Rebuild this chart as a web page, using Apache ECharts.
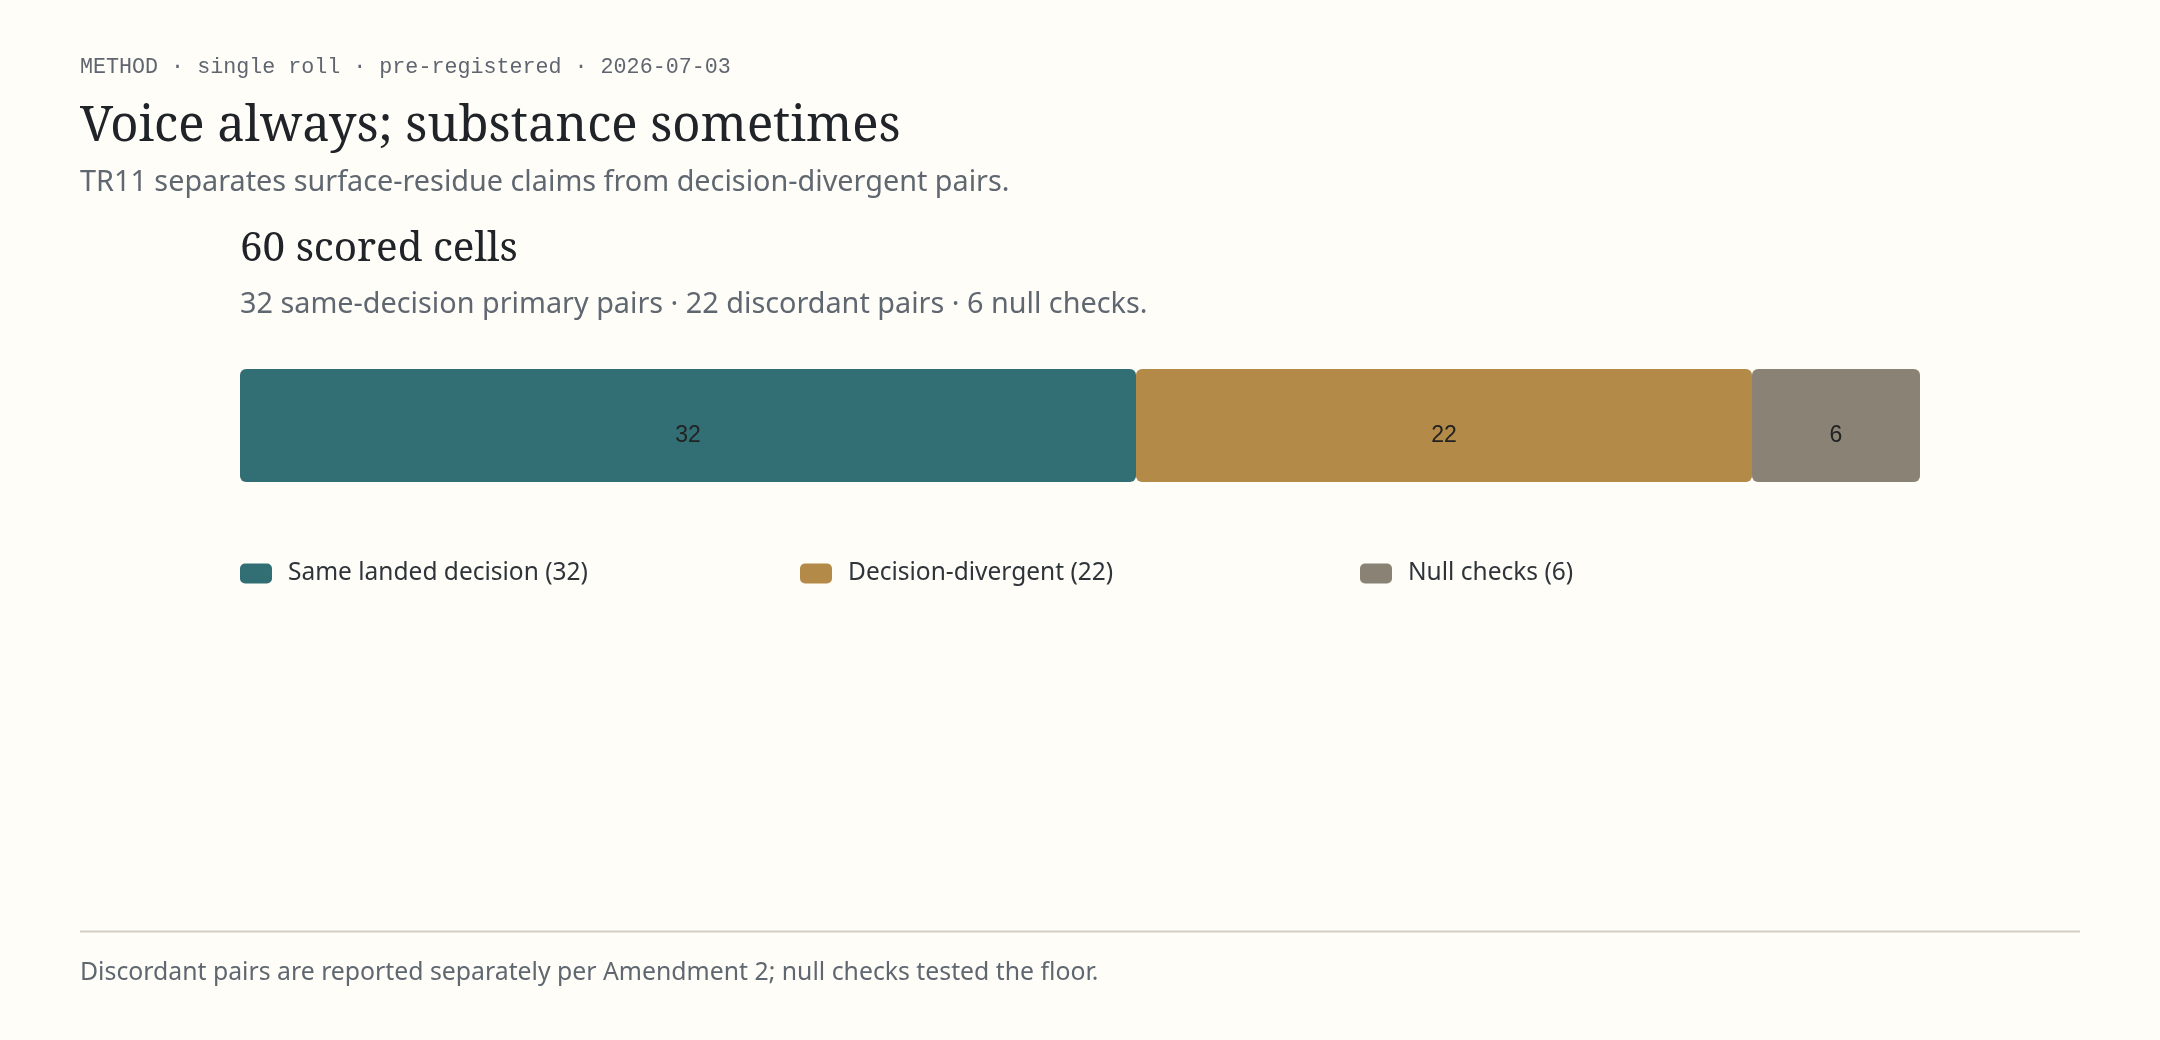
<!DOCTYPE html>
<html>
<head>
  <meta charset="utf-8">
  <title>60 scored cells</title>
  <style>
    html, body { margin: 0; padding: 0; background: #fffdf8; }
    #main { width: 2160px; height: 1040px; }
  </style>
</head>
<body>
<div id="main"></div>
<script src="https://cdn.jsdelivr.net/npm/echarts@6/dist/echarts.min.js"></script>
<script>
// data
var categories = ["cells"];
var seriesNames = ["Same landed decision", "Decision-divergent", "Null checks"];
var seriesValues = [32, 22, 6];
var seriesColors = ["#326f75", "#b38a47", "#8a8275"];
var total = 60;

var serif = "'Noto Serif', 'DejaVu Serif', serif";
var sans = "'Noto Sans', 'Open Sans', sans-serif";

var myChart = echarts.init(document.getElementById("main"));

// one legend per item so that they sit in equal slots
var legends = seriesNames.map(function (name, i) {
  return {
    left: 240 + i * 560,
    top: 561,
    padding: 0,
    itemWidth: 32,
    itemHeight: 20,
    itemGap: 0,
    icon: "roundRect",
    selectedMode: false,
    data: [name],
    formatter: function (n) { return n + " (" + seriesValues[i] + ")"; },
    textStyle: { fontFamily: sans, fontSize: 24.5, color: "#2e3439", padding: [0, 0, 0, 11] }
  };
});

var series = seriesNames.map(function (name, i) {
  return {
    name: name,
    type: "bar",
    stack: "all",
    barWidth: 113,
    data: [seriesValues[i]],
    itemStyle: { color: seriesColors[i], borderRadius: 6, borderWidth: 0 },
    label: {
      show: true,
      position: "inside",
      offset: [0, 10],
      color: "#222222",
      fontFamily: "'Liberation Sans', Arial, sans-serif",
      fontSize: 23
    },
    emphasis: { disabled: true }
  };
});

myChart.setOption({
  backgroundColor: "#fffdf8",
  animation: false,
  title: [
    {
      text: "METHOD · single roll · pre-registered · 2026-07-03",
      left: 80, top: 55, padding: 0,
      textStyle: { fontFamily: "'Liberation Mono', 'DejaVu Sans Mono', monospace", fontSize: 21.7, fontWeight: "normal", color: "#5f6670", lineHeight: 24 }
    },
    {
      text: "Voice always; substance sometimes",
      left: 80, top: 99, padding: 0,
      textStyle: { fontFamily: serif, fontSize: 49, fontWeight: "normal", color: "#202428", lineHeight: 56 }
    },
    {
      text: "TR11 separates surface-residue claims from decision-divergent pairs.",
      left: 80, top: 166, padding: 0,
      textStyle: { fontFamily: sans, fontSize: 28.8, fontWeight: "normal", color: "#5f6770", lineHeight: 34 }
    },
    {
      text: "60 scored cells",
      left: 240, top: 225, padding: 0,
      textStyle: { fontFamily: serif, fontSize: 40.4, fontWeight: "normal", color: "#202428", lineHeight: 48 }
    },
    {
      text: "32 same-decision primary pairs · 22 discordant pairs · 6 null checks.",
      left: 240, top: 288, padding: 0,
      textStyle: { fontFamily: sans, fontSize: 28.8, fontWeight: "normal", color: "#5f6770", lineHeight: 34 }
    },
    {
      text: "Discordant pairs are reported separately per Amendment 2; null checks tested the floor.",
      left: 80, top: 958, padding: 0,
      textStyle: { fontFamily: sans, fontSize: 24.8, fontWeight: "normal", color: "#5f6770", lineHeight: 30 }
    }
  ],
  legend: legends,
  grid: { left: 240, top: 369, width: 1680, height: 113 },
  xAxis: { type: "value", min: 0, max: total, show: false },
  yAxis: { type: "category", data: categories, show: false },
  series: series,
  graphic: [
    {
      type: "line",
      shape: { x1: 80, y1: 931.5, x2: 2080, y2: 931.5 },
      style: { stroke: "#d3cec5", lineWidth: 2 }
    }
  ]
});
</script>
</body>
</html>
